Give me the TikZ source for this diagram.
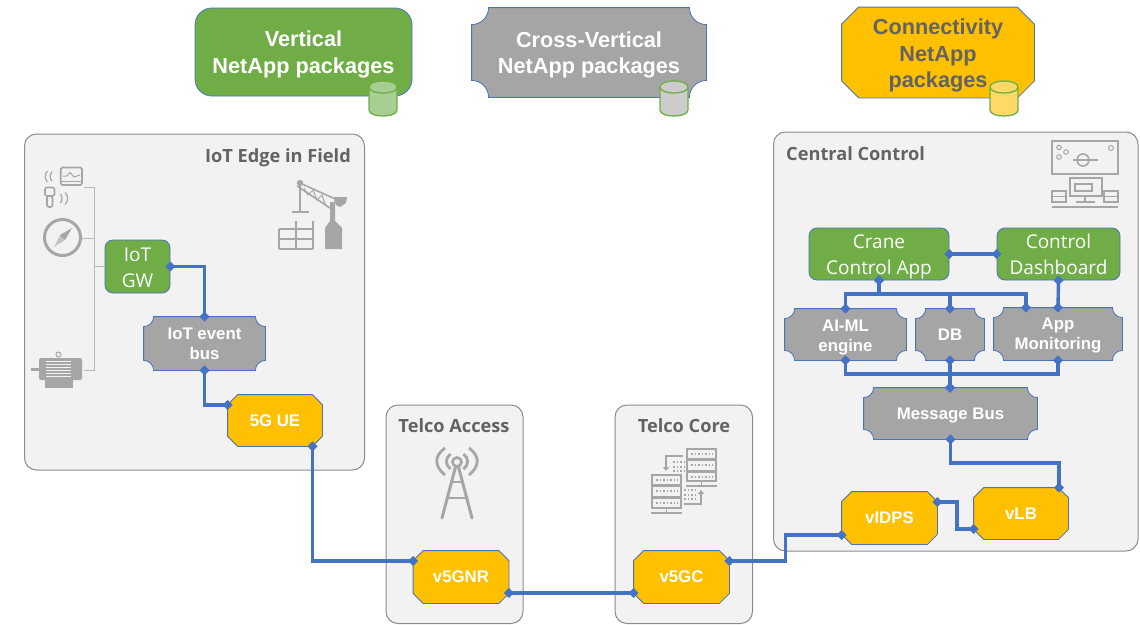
\documentclass[tikz,border=0pt]{standalone}
\usepackage{fontspec}
\setmainfont{Liberation Sans}
\newfontfamily\segoe{Open Sans}
\usetikzlibrary{arrows.meta}

\definecolor{vertgreen}{HTML}{70AD47}
\definecolor{crossgray}{HTML}{A5A5A5}
\definecolor{connyellow}{HTML}{FFC000}
\definecolor{linkblue}{HTML}{4472C4}
\definecolor{zonefill}{HTML}{F2F2F2}
\definecolor{zoneline}{HTML}{8C8C8C}
\definecolor{titlegray}{HTML}{636363}
\definecolor{icongray}{HTML}{A6A6A6}

% concave and cut corners, as shapes so that the nodes keep their anchors
\def\cornersize{10pt}
\makeatletter
\pgfdeclareshape{plaque}{
	\inheritsavedanchors[from=rectangle]
	\inheritanchorborder[from=rectangle]
	\inheritanchor[from=rectangle]{center}
	\inheritanchor[from=rectangle]{north}
	\inheritanchor[from=rectangle]{south}
	\inheritanchor[from=rectangle]{east}
	\inheritanchor[from=rectangle]{west}
	\inheritanchor[from=rectangle]{mid}
	\inheritanchor[from=rectangle]{base}
	\backgroundpath{
		\southwest \edef\pxl{\the\pgf@x}\edef\pyl{\the\pgf@y}
		\northeast \edef\pxh{\the\pgf@x}\edef\pyh{\the\pgf@y}
		\pgfpathmoveto{\pgfpoint{\pxl+\cornersize}{\pyl}}
		\pgfpathlineto{\pgfpoint{\pxh-\cornersize}{\pyl}}
		\pgfpathcurveto{\pgfpoint{\pxh-\cornersize}{\pyl+0.55*\cornersize}}{\pgfpoint{\pxh-0.55*\cornersize}{\pyl+\cornersize}}{\pgfpoint{\pxh}{\pyl+\cornersize}}
		\pgfpathlineto{\pgfpoint{\pxh}{\pyh-\cornersize}}
		\pgfpathcurveto{\pgfpoint{\pxh-0.55*\cornersize}{\pyh-\cornersize}}{\pgfpoint{\pxh-\cornersize}{\pyh-0.55*\cornersize}}{\pgfpoint{\pxh-\cornersize}{\pyh}}
		\pgfpathlineto{\pgfpoint{\pxl+\cornersize}{\pyh}}
		\pgfpathcurveto{\pgfpoint{\pxl+\cornersize}{\pyh-0.55*\cornersize}}{\pgfpoint{\pxl+0.55*\cornersize}{\pyh-\cornersize}}{\pgfpoint{\pxl}{\pyh-\cornersize}}
		\pgfpathlineto{\pgfpoint{\pxl}{\pyl+\cornersize}}
		\pgfpathcurveto{\pgfpoint{\pxl+0.55*\cornersize}{\pyl+\cornersize}}{\pgfpoint{\pxl+\cornersize}{\pyl+0.55*\cornersize}}{\pgfpoint{\pxl+\cornersize}{\pyl}}
		\pgfpathclose
	}
}
\pgfdeclareshape{snipbox}{
	\inheritsavedanchors[from=rectangle]
	\inheritanchorborder[from=rectangle]
	\inheritanchor[from=rectangle]{center}
	\inheritanchor[from=rectangle]{north}
	\inheritanchor[from=rectangle]{south}
	\inheritanchor[from=rectangle]{east}
	\inheritanchor[from=rectangle]{west}
	\inheritanchor[from=rectangle]{mid}
	\inheritanchor[from=rectangle]{base}
	\backgroundpath{
		\southwest \edef\pxl{\the\pgf@x}\edef\pyl{\the\pgf@y}
		\northeast \edef\pxh{\the\pgf@x}\edef\pyh{\the\pgf@y}
		\pgfpathmoveto{\pgfpoint{\pxl+\cornersize}{\pyl}}
		\pgfpathlineto{\pgfpoint{\pxh-\cornersize}{\pyl}}
		\pgfpathlineto{\pgfpoint{\pxh}{\pyl+\cornersize}}
		\pgfpathlineto{\pgfpoint{\pxh}{\pyh-\cornersize}}
		\pgfpathlineto{\pgfpoint{\pxh-\cornersize}{\pyh}}
		\pgfpathlineto{\pgfpoint{\pxl+\cornersize}{\pyh}}
		\pgfpathlineto{\pgfpoint{\pxl}{\pyh-\cornersize}}
		\pgfpathlineto{\pgfpoint{\pxl}{\pyl+\cornersize}}
		\pgfpathclose
	}
}
\makeatother

\tikzset{
	corner size/.code={\def\cornersize{#1}},
	zone/.style={draw=zoneline, fill=zonefill, line width=1pt, rounded corners=12pt},
	zonetitle/.style={text=titlegray, inner sep=0pt, font=\segoe\bfseries\fontsize{18.2}{21}\selectfont},
	boxtext/.style={align=center, text=white, inner sep=0pt, draw=linkblue!90!gray, line width=0.8pt},
	greenbox/.style={boxtext, fill=vertgreen, rounded corners=8pt, font=\segoe\fontsize{19}{26}\selectfont},
	graybox/.style={boxtext, shape=plaque, fill=crossgray, font=\bfseries\fontsize{16.8}{20}\selectfont},
	goldbox/.style={boxtext, shape=snipbox, fill=connyellow, font=\bfseries\fontsize{16.8}{20}\selectfont},
	bigtext/.style={font=\bfseries\fontsize{21.7}{26.5}\selectfont},
	pkgdrum/.style={draw=vertgreen, line width=1.3pt},
	link/.style={draw=linkblue, line width=3.4pt, {Diamond[length=10pt,width=10pt]}-{Diamond[length=10pt,width=10pt]}, shorten <=-5pt, shorten >=-5pt},
	iconline/.style={draw=icongray, line width=1.6pt},
	iconfill/.style={fill=icongray, draw=none},
	busline/.style={draw=icongray!80, line width=1pt}
}

\begin{document}
\begin{tikzpicture}[x=1pt, y=-1pt]
	\useasboundingbox (0,0) rectangle (1140,624);

	% zones
	\draw[zone] (24.5,134) rectangle (364.5,470);
	\draw[zone] (386,405) rectangle (523,623.5);
	\draw[zone] (615,405) rectangle (752.5,623.5);
	\draw[zone] (773.5,132) rectangle (1138,551);
	\node[zonetitle, anchor=east] (edgetitle) at (351,158) {IoT Edge in Field};
	\node[zonetitle] (accesstitle) at (454,426) {Telco Access};
	\node[zonetitle] (coretitle) at (684,426) {Telco Core};
	\node[zonetitle, anchor=west] (centraltitle) at (786,154) {Central Control};

	% packages
	\node[greenbox, bigtext, minimum width=217pt, minimum height=88pt, rounded corners=17pt] (vertpkg) at (303.5,52) {\rule{0pt}{21pt}Vertical\\NetApp packages};
	\node[graybox, bigtext, corner size=17pt, minimum width=234pt, minimum height=89pt] (crosspkg) at (589,52.5) {\rule{0pt}{21pt}Cross-Vertical\\NetApp packages};
	\node[goldbox, bigtext, text=titlegray, corner size=17pt, minimum width=192pt, minimum height=90pt] (connpkg) at (938,52.5) {\rule{0pt}{22pt}Connectivity\\NetApp\\packages};

	% drums
	\draw[pkgdrum, fill=vertgreen!60] (369,87) -- (369,110) .. controls (369,118) and (397,118) .. (397,110) -- (397,87) .. controls (397,79) and (369,79) .. (369,87) -- cycle;
	\draw[pkgdrum] (369,87) .. controls (369,95) and (397,95) .. (397,87);
	\draw[pkgdrum, fill=black!20] (660,87) -- (660,110) .. controls (660,118) and (688,118) .. (688,110) -- (688,87) .. controls (688,79) and (660,79) .. (660,87) -- cycle;
	\draw[pkgdrum] (660,87) .. controls (660,95) and (688,95) .. (688,87);
	\draw[pkgdrum, fill=connyellow!60] (990,87) -- (990,110) .. controls (990,118) and (1018,118) .. (1018,110) -- (1018,87) .. controls (1018,79) and (990,79) .. (990,87) -- cycle;
	\draw[pkgdrum] (990,87) .. controls (990,95) and (1018,95) .. (1018,87);

	% field devices wired to the gateway
	\node[greenbox, minimum width=65pt, minimum height=53pt] (iotgw) at (137.5,266.5) {\rule{0pt}{16.5pt}IoT\\GW};
	\coordinate (sensors) at (84,187);
	\coordinate (compass) at (82,238);
	\coordinate (motor) at (84,370);
	\draw[busline] (sensors) -- (94,187) -- (94,370) -- (motor);
	\draw[busline] (compass) -- (94,238);
	\draw[busline] (94,266.5) -- (iotgw.west);

	% sensor icons
	\draw[iconline, rounded corners=1.5pt] (60.7,167.5) rectangle (82,185);
	\draw[iconline, line width=1pt] (60.7,181) -- (82,181);
	\draw[iconline, line width=1pt] (63,176) -- (67,176) -- (70,172.5) -- (74,177) -- (80,175);
	\draw[iconline, line width=1.2pt] (47.5,171) .. controls (44.5,174) and (44.5,179) .. (47.5,182);
	\draw[iconline, line width=1.2pt] (52,172) .. controls (49.5,175) and (49.5,178) .. (52,181);
	\draw[iconline, rounded corners=2pt] (45,187.5) rectangle (54.5,196);
	\draw[iconline, rounded corners=2pt] (47,196) rectangle (52.5,207);
	\draw[iconline, line width=1.2pt] (60.5,194) .. controls (62.5,197) and (62.5,200) .. (60.5,203);
	\draw[iconline, line width=1.2pt] (65,192.5) .. controls (68.5,196) and (68.5,201) .. (65,204.5);
	% compass
	\draw[iconline, line width=3pt] (62.5,237.5) circle (18);
	\draw[iconfill] (72,228) -- (65,240) -- (60,235) -- cycle;
	\draw[iconfill, opacity=0.6] (54,247) -- (60,235) -- (65,240) -- cycle;
	% motor
	\draw[iconfill, rounded corners=2pt] (39,358) rectangle (82,380);
	\draw[iconfill] (31,367.5) rectangle (40,371);
	\draw[iconfill] (45,380) rectangle (73,388);
	\draw[iconline, line width=1pt] (58.5,354.5) circle (2.5);
	\draw[zonefill, line width=0.8pt] (46,361) -- (71,361) (46,364) -- (71,364) (46,367) -- (71,367) (46,370) -- (71,370) (46,373) -- (71,373) (46,376) -- (71,376);

	% crane icon
	\draw[iconfill] (300,183) circle (3.2);
	\draw[iconline] (300,183) -- (300,212);
	\draw[iconline] (291.5,212) -- (309,212);
	\draw[iconline] (300,183) -- (333,198) (297,186) -- (330,208);
	\draw[iconline, line width=1pt] (304,188) -- (308,195) -- (313,190) -- (317,200) -- (322,195) -- (325,204);
	\draw[iconfill] (333,197) -- (347,197) -- (346,203) -- (340,207) -- (336,205) -- cycle;
	\draw[iconfill] (330,202) -- (335,202) -- (335,221) -- (342,228) -- (342,249) -- (325,249) -- (325,228) -- (330,221) -- cycle;
	\draw[iconline] (278.7,229) -- (313,229) (278.7,239) -- (313,239) (278.7,249) -- (313,249) (278.7,229) -- (278.7,249) (296,221) -- (296,249) (313,221) -- (313,249);

	% antenna icon
	\draw[iconline, line width=2.6pt] (457,462) circle (4.5);
	\draw[iconline, line width=2.8pt] (450.5,469) .. controls (445,465) and (445,458) .. (450.5,454);
	\draw[iconline, line width=2.8pt] (463.5,469) .. controls (469,465) and (469,458) .. (463.5,454);
	\draw[iconline, line width=2.8pt] (445,475) .. controls (434,466) and (434,456) .. (445,448);
	\draw[iconline, line width=2.8pt] (469,475) .. controls (480,466) and (480,456) .. (469,448);
	\draw[iconline, line width=3pt, line cap=round] (442,518) -- (455.5,467) (472,518) -- (458.5,467);
	\draw[iconline, line width=2.8pt] (450,482) -- (464,482) (447,498) -- (467,498);

	% server icon
	\draw[iconline] (652,475) rectangle (681,485) (652,486) rectangle (681,496.5) (652,498) rectangle (681,508);
	\draw[iconline] (651,513) -- (682,513) (666.5,508) -- (666.5,513);
	\draw[iconline] (687,449) rectangle (716,459) (687,460) rectangle (716,470.5) (687,472) rectangle (716,481);
	\draw[iconline] (686,486) -- (717,486) (701.5,481) -- (701.5,486);
	\draw[icongray, line width=1.5pt, dash pattern=on 1.5pt off 2pt] (656,480) -- (678,480) (656,491) -- (678,491) (656,503) -- (678,503);
	\draw[icongray, line width=1.5pt, dash pattern=on 1.5pt off 2pt] (691,454) -- (713,454) (691,465) -- (713,465) (691,477) -- (713,477);
	\draw[iconline, -{Triangle[length=4pt,width=6pt]}] (683,456) -- (666,456) -- (666,471);
	\draw[iconline, -{Triangle[length=4pt,width=6pt]}] (684,504) -- (701,504) -- (701,490);
	\draw[icongray, line width=1.5pt, dash pattern=on 1.5pt off 2pt] (673,462) -- (684,462) (673,467) -- (684,467) (673,471) -- (684,471);
	\draw[icongray, line width=1.5pt, dash pattern=on 1.5pt off 2pt] (684,490) -- (695,490) (684,495) -- (695,495) (684,499) -- (695,499);

	% control room icon
	\draw[iconline] (1052,141) rectangle (1118,174);
	\draw[iconline, line width=1pt] (1059,147.5) circle (2.3) (1059,157) circle (2.3) (1066,152) circle (2.3) (1111,148) circle (2.5);
	\draw[iconline] (1083,160) circle (6);
	\draw[iconline] (1073,160) -- (1098,160);
	\draw[iconline] (1070,178) rectangle (1102,196);
	\draw[iconline] (1075,184) rectangle (1092,191);
	\draw[iconline] (1085,196) -- (1085,202) (1076,202) -- (1095,202);
	\draw[iconline] (1052,191) rectangle (1066,202) (1104,191) rectangle (1118,202);
	\draw[iconline, line width=1pt] (1052,196.5) -- (1066,196.5) (1104,196.5) -- (1118,196.5);
	\draw[iconline] (1052,207) -- (1118,207);

	% functions
	\node[graybox, minimum width=121pt, minimum height=53pt] (eventbus) at (204.5,343.5) {IoT event\\bus};
	\node[goldbox, minimum width=94pt, minimum height=51pt] (ue) at (275,420.5) {5G UE};
	\node[goldbox, minimum width=95pt, minimum height=52pt] (gnr) at (461,577) {v5GNR};
	\node[goldbox, minimum width=95pt, minimum height=52pt] (gc) at (681.5,577) {v5GC};
	\node[goldbox, minimum width=95pt, minimum height=52pt] (idps) at (889.5,518) {vIDPS};
	\node[goldbox, minimum width=94pt, minimum height=51pt] (lb) at (1021,513.5) {vLB};
	\node[greenbox, minimum width=140pt, minimum height=52pt] (crane) at (879,254) {\rule{0pt}{20pt}Crane\\Control App};
	\node[greenbox, minimum width=123pt, minimum height=52pt] (dash) at (1058.5,254) {Control\\Dashboard};
	\node[graybox, minimum width=121pt, minimum height=51pt] (aiml) at (845.5,334.5) {\rule{0pt}{17pt}AI-ML\\engine};
	\node[graybox, minimum width=68pt, minimum height=51pt] (db) at (950,334.5) {DB};
	\node[graybox, minimum width=128pt, minimum height=52pt] (appmon) at (1058,334) {\rule{0pt}{15pt}App\\Monitoring};
	\node[graybox, minimum width=173pt, minimum height=51pt] (msgbus) at (950.5,413.5) {\rule{0pt}{16pt}Message Bus};

	% links
	\draw[link] (iotgw.east) -| (eventbus.north);
	\draw[link] (eventbus.south) |- ([yshift=15.5pt]ue.west);
	\draw[link] ([xshift=37.5pt]ue.south) |- ([yshift=16pt]gnr.west);
	\draw[link] ([yshift=-16pt]gnr.east) -- ([yshift=-16pt]gc.west);
	\draw[link] ([yshift=16pt]gc.east) -- (785.5,561) -- (785.5,535) -- ([yshift=-17pt]idps.west);
	\draw[link] ([yshift=16pt]idps.east) -- (957,502) -- (957,529) -- ([yshift=-15.5pt]lb.west);
	\draw[link] ([xshift=38pt]lb.north) -- (1059,463) -- (950.5,463) -- (msgbus.south);
	\draw[link] (crane.east) -- (dash.west);
	\draw[link] (dash.south) -- (appmon.north);
	\draw[link] (crane.south) -- (879,294) -| (aiml.north);
	\draw[link] (crane.south) -- (879,294) -| (db.north);
	\draw[link] (crane.south) -- (879,294) -| ([xshift=-32pt]appmon.north);
	\draw[link] (aiml.south) |- (950,374) -- (msgbus.north -| db.south);
	\draw[link] (appmon.south) |- (950,374) -- (msgbus.north -| db.south);
	\draw[link] (db.south) -- (msgbus.north -| db.south);
\end{tikzpicture}
\end{document}
